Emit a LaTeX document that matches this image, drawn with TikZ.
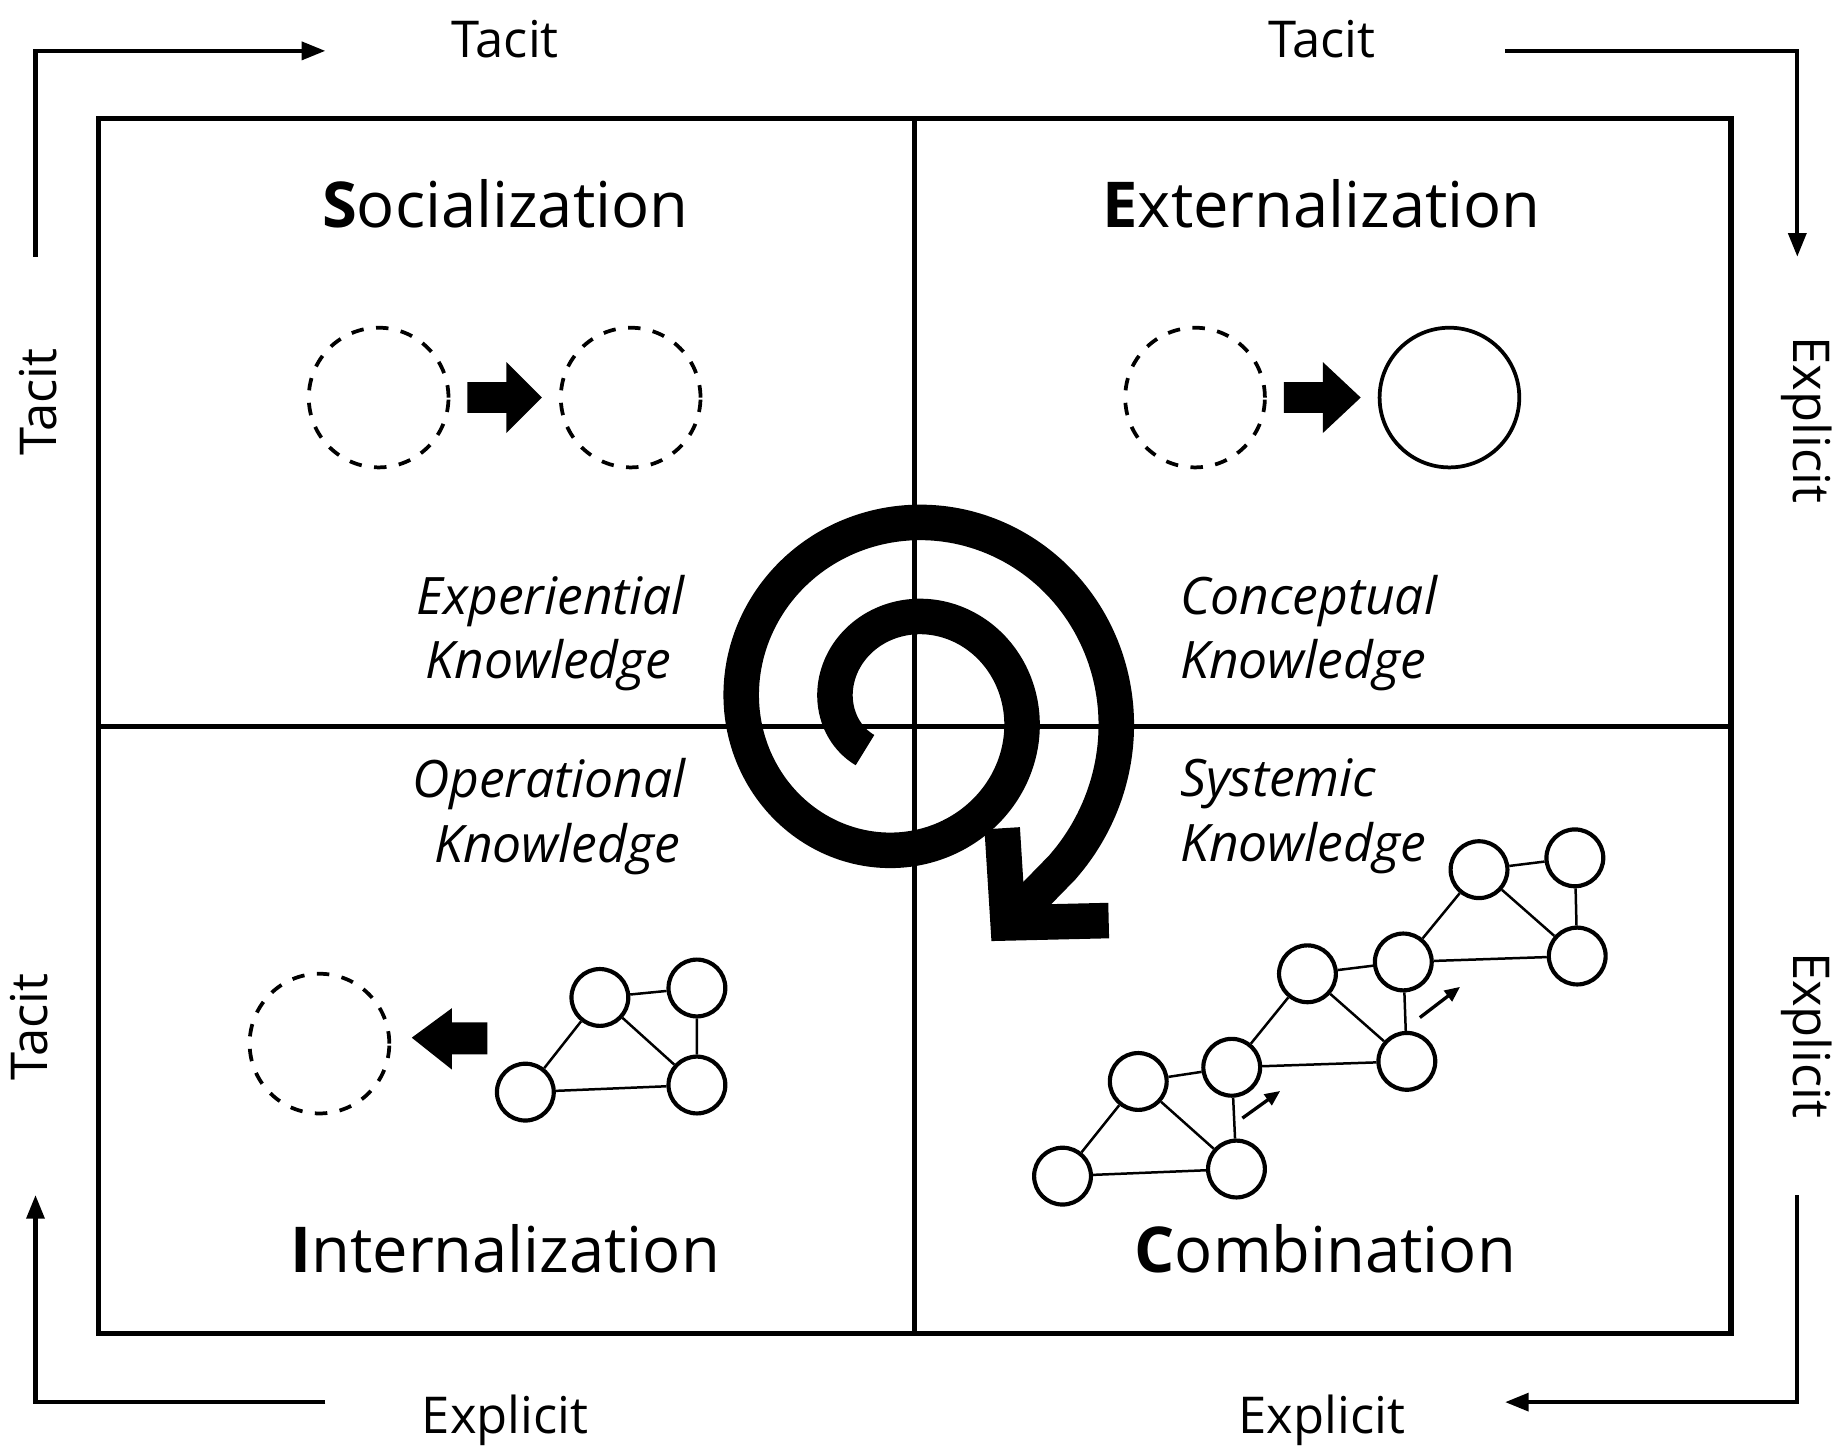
\documentclass[tikz,border=0pt]{standalone}
\usepackage{fontspec}
\setmainfont{Open Sans}
\usetikzlibrary{arrows.meta}
\begin{document}
\begin{tikzpicture}[x=0.01cm,y=-0.01cm,
  lbl/.style={font=\fontsize{12.2}{14}\selectfont},
  ttl/.style={font=\fontsize{15.2}{18}\selectfont},
  kn/.style={font=\fontsize{12.4}{15.5}\selectfont\itshape,align=left,anchor=west},
  dc/.style={draw,dashed,line width=0.9pt,circle,minimum size=1.18cm,inner sep=0pt},
  sc/.style={draw,line width=0.9pt,circle,minimum size=1.18cm,inner sep=0pt},
  nd/.style={draw,line width=1pt,circle,fill=white,minimum size=0.48cm,inner sep=0pt},
  ed/.style={line width=0.6pt},
  flow/.style={line width=1pt,-{Triangle[length=0.2cm,width=0.15cm]}}]
\useasboundingbox (0,0) rectangle (1550,1227);
% frame
\draw[line width=1.3pt] (83,100) rectangle (1463,1127);
\draw[line width=1.3pt] (773,100) -- (773,1127);
\draw[line width=1.3pt] (83,614) -- (1463,614);
% outer arrows
\coordinate (a1) at (30,217); \coordinate (a2) at (30,43); \coordinate (a3) at (275,43);
\draw[flow] (a1) -- (a2) -- (a3);
\coordinate (b1) at (1272,43); \coordinate (b2) at (1519,43); \coordinate (b3) at (1519,217);
\draw[flow] (b1) -- (b2) -- (b3);
\coordinate (c1) at (1519,1010); \coordinate (c2) at (1519,1185); \coordinate (c3) at (1272,1185);
\draw[flow] (c1) -- (c2) -- (c3);
\coordinate (d1) at (275,1185); \coordinate (d2) at (30,1185); \coordinate (d3) at (30,1010);
\draw[flow] (d1) -- (d2) -- (d3);
\node[lbl] (t1) at (427,33) {Tacit};
\node[lbl] (t2) at (1117,33) {Tacit};
\node[lbl] (t3) at (427,1200) {Explicit};
\node[lbl] (t4) at (1117,1200) {Explicit};
\node[lbl,rotate=90] (t5) at (32,340) {Tacit};
\node[lbl,rotate=90] (t6) at (25,868) {Tacit};
\node[lbl,rotate=-90] (t7) at (1527,355) {Explicit};
\node[lbl,rotate=-90] (t8) at (1527,875) {Explicit};
% titles
\node[ttl] (s) at (427,172) {\textbf{S}ocialization};
\node[ttl] (e) at (1117,172) {\textbf{E}xternalization};
\node[ttl] (i) at (427,1055) {\textbf{I}nternalization};
\node[ttl] (c) at (1120,1055) {\textbf{C}ombination};
% knowledge labels
\node[kn] (k1) at (340,535) {Experiential\\\,Knowledge};
\node[kn] (k2) at (985,535) {Conceptual\\Knowledge};
\node[kn] (k3) at (336,690) {Operational\\\ \,Knowledge};
\node[kn] (k4) at (985,690) {Systemic\\Knowledge};
% circles
\node[dc] (s1) at (320,336) {};
\node[dc] (s2) at (533,336) {};
\node[dc] (e1) at (1010,336) {};
\node[sc] (e2) at (1225,336) {};
\node[dc] (i1) at (270,882) {};
\fill (395,323) -- (428,323) -- (428,306) -- (458,336) -- (428,366) -- (428,349) -- (395,349) -- cycle;
\fill (1085,323) -- (1118,323) -- (1118,306) -- (1150,336) -- (1118,366) -- (1118,349) -- (1085,349) -- cycle;
\fill (412,864) -- (382,864) -- (382,852) -- (348,877) -- (382,904) -- (382,891) -- (412,891) -- cycle;
% internalization network
\node[nd] (n1) at (507,843) {};
\node[nd] (n2) at (589,835) {};
\node[nd] (n3) at (444,923) {};
\node[nd] (n4) at (589,917) {};
\draw[ed] (n1)--(n2) (n1)--(n3) (n1)--(n4) (n2)--(n4) (n3)--(n4);
% combination networks
\node[nd] (a) at (898,994) {};
\node[nd] (b) at (962,914) {};
\node[nd] (cc) at (1041,902) {};
\node[nd] (dd) at (1045,988) {};
\node[nd] (f) at (1105,823) {};
\node[nd] (g) at (1186,813) {};
\node[nd] (h) at (1189,897) {};
\node[nd] (j) at (1250,735) {};
\node[nd] (k) at (1331,725) {};
\node[nd] (l) at (1333,808) {};
\draw[ed] (b)--(cc) (b)--(a) (b)--(dd) (cc)--(dd) (a)--(dd);
\draw[ed] (f)--(g) (f)--(cc) (f)--(h) (g)--(h) (cc)--(h);
\draw[ed] (j)--(k) (j)--(g) (j)--(l) (k)--(l) (g)--(l);
\coordinate (m1) at (1050,945); \coordinate (m2) at (1082,922);
\coordinate (m3) at (1200,860); \coordinate (m4) at (1234,834);
\draw[line width=0.8pt,-{Triangle[length=0.13cm,width=0.11cm]}] (m1) -- (m2);
\draw[line width=0.8pt,-{Triangle[length=0.13cm,width=0.11cm]}] (m3) -- (m4);
% spiral
\coordinate (sc) at (852,780);
\draw[line width=0.3cm,line join=round]
  plot[domain=135:765,samples=180,smooth,variable=\t]
  ({765+(48+(\t-135)/630*140)*cos(\t)},{600+(48+(\t-135)/630*140)*sin(\t)}) -- (sc);
\draw[line width=0.3cm,line join=miter] (847,700) -- (sc) -- (937,778);
\end{tikzpicture}
\end{document}
